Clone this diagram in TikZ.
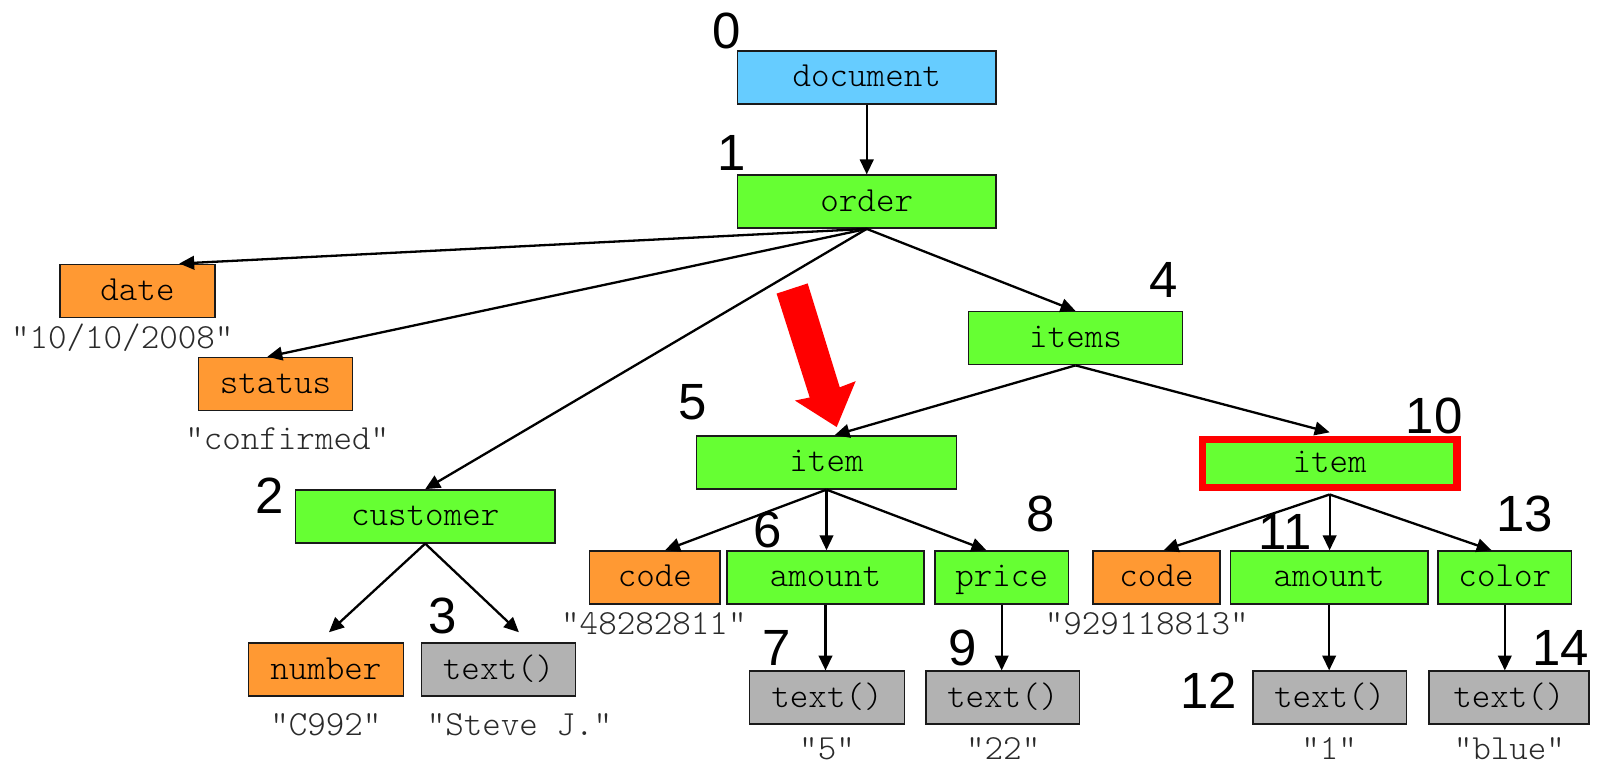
\documentclass[tikz,border=0pt]{standalone}
\usepackage{fontspec}
\setmainfont{Liberation Sans}
\newfontfamily\monof{lmmonolt10-regular.otf}
\usetikzlibrary{arrows.meta,calc}
\definecolor{docblue}{HTML}{66CCFF}
\definecolor{elgreen}{HTML}{66FF33}
\definecolor{attorange}{HTML}{FF9933}
\definecolor{txtgray}{HTML}{B2B2B2}
\definecolor{boxline}{HTML}{1A1A1A}
\definecolor{lblgray}{HTML}{2A2A2A}
\definecolor{hired}{HTML}{FF0000}
\begin{document}
\begin{tikzpicture}[x=0.75pt,y=-0.75pt,
  monofont/.style={font=\monof\fontsize{26}{26}\selectfont},
  box/.style={draw=boxline, line width=1.1pt, inner xsep=0pt, inner ysep=0pt, minimum height=39pt,
    monofont, text height=18pt, text depth=4pt, text=black},
  docbox/.style={box, fill=docblue},
  elbox/.style={box, fill=elgreen},
  attbox/.style={box, fill=attorange},
  txtbox/.style={box, fill=txtgray},
  selbox/.style={box, fill=elgreen, draw=hired, line width=5.25pt, minimum height=35.25pt},
  val/.style={inner sep=0pt, monofont, anchor=base, text=lblgray},
  num/.style={inner sep=0pt, font=\fontsize{37.5}{37.5}\selectfont, text=black},
  edge/.style={draw=black, line width=1.7pt, -{Triangle[length=11pt,width=10pt]}},
  pointer/.style={fill=hired, draw=none}
]
\useasboundingbox (0,0) rectangle (1568,751.1);

% nodes
\node[docbox, minimum width=190.5pt] (document) at (851,76) {document};
\node[elbox, minimum width=190.5pt] (order) at (851,198) {order};
\node[attbox, minimum width=114pt] (date) at (135,285.5) {date};
\node[attbox, minimum width=113.25pt] (status) at (270.5,377) {status};
\node[elbox, minimum width=191.25pt] (customer) at (417.5,507) {customer};
\node[attbox, minimum width=114pt] (number) at (320,657.5) {number};
\node[txtbox, minimum width=113.25pt] (text3) at (489.5,657.5) {text()};
\node[elbox, minimum width=157.5pt] (items) at (1056,332) {items};
\node[elbox, minimum width=191.25pt] (item5) at (811.5,454) {item};
\node[selbox, minimum width=187.5pt] (item10) at (1305.5,455) {item};
\node[attbox, minimum width=96pt] (code5) at (643,567) {code};
\node[elbox, minimum width=144.75pt] (amount6) at (810.5,567) {amount};
\node[elbox, minimum width=98.25pt] (price) at (983.5,567) {price};
\node[txtbox, minimum width=114pt] (text7) at (812,685) {text()};
\node[txtbox, minimum width=113.25pt] (text9) at (984.5,685) {text()};
\node[attbox, minimum width=93.75pt] (code10) at (1135.5,567) {code};
\node[elbox, minimum width=145.5pt] (amount11) at (1305,567) {amount};
\node[elbox, minimum width=98.25pt] (color) at (1477.5,567) {color};
\node[txtbox, minimum width=113.25pt] (text12) at (1305.5,685) {text()};
\node[txtbox, minimum width=117.75pt] (text14) at (1481.5,685) {text()};

% values (placed at their baselines)
\node[val] (v1) at (120,342.3) {"10/10/2008"};
\node[val] (v2) at (282,441.3) {"confirmed"};
\node[val] (v3) at (320,722.3) {"C992"};
\node[val] (v4) at (510,722.3) {"Steve J."};
\node[val] (v5) at (642,623.3) {"48282811"};
\node[val] (v6) at (1126,623.3) {"929118813"};
\node[val] (v7) at (812,746) {"5"};
\node[val] (v8) at (985,746) {"22"};
\node[val] (v9) at (1305,746) {"1"};
\node[val] (v10) at (1482,746) {"blue"};

% numbers
\node[num] (n0) at (713,30) {0};
\node[num] (n1) at (718,150) {1};
\node[num] (n2) at (265,487) {2};
\node[num] (n3) at (435,605) {3};
\node[num] (n4) at (1143,275) {4};
\node[num] (n5) at (680,395) {5};
\node[num] (n6) at (754,520) {6};
\node[num] (n7) at (763,636) {7};
\node[num] (n8) at (1022,505) {8};
\node[num] (n9) at (945,636) {9};
\node[num] (n10) at (1408,408) {10};
\node[num] (n11) at (1262,522) {11};
\node[num] (n12) at (1187,678) {12};
\node[num] (n13) at (1497,505) {13};
\node[num] (n14) at (1532,636) {14};

% edges
\draw[edge] (document.south) -- (order.north);
\draw[edge] (order.south) -- ($(date.north)+(41,0)$);
\draw[edge] (order.south) -- ($(status.north)+(-8,0)$);
\draw[edge] (order.south) -- (customer.north);
\draw[edge] (order.south) -- (items.north);
\draw[edge] (items.south) -- ($(item5.north)+(8,0)$) coordinate (item5tip);
\draw[edge] (items.south) -- ($(item10.north)+(0,-3.5)$);
\draw[edge] (customer.south) -- ($(number.north)+(3,-10)$);
\draw[edge] (customer.south) -- ($(text3.north)+(20,-10)$);
\draw[edge] (item5.south) -- ($(code5.north)+(10,0)$);
\draw[edge] (item5.south) -- (item5.south |- amount6.north);
\draw[edge] (item5.south) -- ($(price.north)+(-15,0)$);
\draw[edge] (amount6.south) -- (amount6.south |- text7.north);
\draw[edge] (price.south) -- (price.south |- text9.north);
\draw[edge] ($(item10.south)+(0,3.5)$) -- ($(code10.north)+(7,0)$);
\draw[edge] ($(item10.south)+(0,3.5)$) -- (item10.south |- amount11.north);
\draw[edge] ($(item10.south)+(0,3.5)$) -- ($(color.north)+(-13,0)$);
\draw[edge] (amount11.south) -- (amount11.south |- text12.north);
\draw[edge] (color.south) -- (color.south |- text14.north);

% big red pointer
\fill[pointer] ($(item5tip)+(-57,-139)$) -- ($(item5tip)+(-26.5,-149)$) -- ($(item5tip)+(5,-47)$)
  -- ($(item5tip)+(20.6,-53)$) -- ($(item5tip)+(2,-8)$) -- ($(item5tip)+(-39,-34)$) -- ($(item5tip)+(-24.5,-37)$) -- cycle;
\end{tikzpicture}
\end{document}
